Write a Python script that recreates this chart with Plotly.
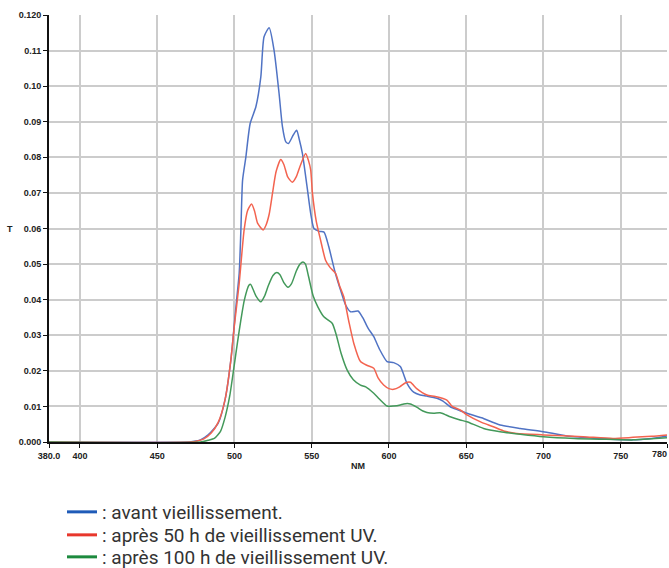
import plotly.graph_objects as go

# ---- data ----
nm_avant = [380, 470, 474, 478, 483, 489.5, 494, 497.7, 501, 503.1, 504.2, 505.3, 507.4, 510.2, 513.9,
            517.1, 519.2, 522.5, 525.7, 528.9, 531.1, 533.2, 535, 538, 540.3, 542, 544, 547.2, 549.4,
            551.5, 555, 558, 561, 565, 568.7, 572, 575.2, 580, 583, 586.5, 590.2, 594, 598.8, 603.1,
            607.4, 611.7, 616, 620.3, 624.6, 631.1, 635, 639.7, 645, 650.5, 660, 672, 685, 700, 715,
            736.5, 758, 770, 780]
t_avant = [0, 0, 0.0002, 0.0006, 0.002, 0.0053, 0.012, 0.023, 0.038, 0.0474, 0.0596, 0.0736, 0.080,
           0.0895, 0.0942, 0.1026, 0.1139, 0.1164, 0.110, 0.098, 0.0886, 0.0844, 0.0839, 0.0862, 0.0876,
           0.085, 0.0811, 0.0712, 0.0642, 0.060, 0.0592, 0.059, 0.055, 0.048, 0.0427, 0.0385, 0.0366,
           0.0368, 0.035, 0.032, 0.0296, 0.026, 0.0226, 0.0223, 0.0212, 0.0165, 0.014, 0.0132, 0.0129,
           0.0123, 0.0115, 0.0099, 0.009, 0.0081, 0.0068, 0.0048, 0.0038, 0.0029, 0.0017, 0.001, 0.0006,
           0.001, 0.0017]

nm_50h = [380, 472, 476, 480, 485, 489.5, 494, 497.7, 499.9, 503.1, 506.3, 508.5, 511.1, 513, 515,
          518.6, 520.5, 522.5, 524.7, 527, 530, 532, 534.5, 537.5, 540, 542.5, 546.1, 548, 549.4, 550.5,
          553, 555.8, 559, 562, 565.5, 568, 570.8, 574, 577.3, 581.6, 586, 590.2, 593, 596.6, 600, 603.1,
          607, 610.5, 613.9, 618, 624.6, 630, 637.5, 641, 646.1, 650.5, 660, 667.6, 675, 682.8, 700,
          725.7, 745, 758, 770, 780]
t_50h = [0, 0, 0.0003, 0.0008, 0.0025, 0.0055, 0.012, 0.023, 0.0324, 0.0446, 0.0596, 0.065, 0.0669,
         0.065, 0.0615, 0.0596, 0.061, 0.064, 0.070, 0.076, 0.0794, 0.078, 0.0745, 0.073, 0.0745, 0.0775,
         0.0811, 0.079, 0.0764, 0.070, 0.062, 0.0567, 0.0511, 0.049, 0.0474, 0.044, 0.0408, 0.034,
         0.0277, 0.0226, 0.0215, 0.0207, 0.018, 0.016, 0.015, 0.0148, 0.0155, 0.0166, 0.0168, 0.015,
         0.0132, 0.0128, 0.0118, 0.010, 0.009, 0.0076, 0.0055, 0.0043, 0.003, 0.0024, 0.002, 0.0015,
         0.001, 0.0013, 0.0016, 0.002]

nm_100h = [380, 478, 483, 487, 491, 494, 497, 499.9, 502, 504.2, 506.5, 509.5, 510.5, 512, 514, 517.1,
           519.5, 522, 525, 527.4, 529.5, 532, 534.7, 537, 540, 542.5, 544.4, 546, 548, 551, 554, 557.9,
           560.5, 563.4, 566, 569, 573, 577, 581.6, 585, 590.2, 594, 598.8, 603, 607.4, 609.6, 613.9,
           618, 622, 624.6, 628.9, 633.2, 637, 639.7, 646.1, 650.5, 661.3, 672, 685, 700, 720, 736.5,
           758, 770, 780]
t_100h = [0, 0, 0.0005, 0.001, 0.003, 0.007, 0.013, 0.0216, 0.028, 0.0343, 0.040, 0.0441, 0.0443, 0.043,
          0.041, 0.0394, 0.041, 0.044, 0.0468, 0.0476, 0.047, 0.0448, 0.0435, 0.0445, 0.048, 0.050,
          0.0506, 0.050, 0.0465, 0.041, 0.038, 0.0352, 0.0343, 0.0333, 0.030, 0.025, 0.0202, 0.0175,
          0.016, 0.0155, 0.0137, 0.012, 0.0101, 0.0101, 0.0104, 0.0107, 0.0107, 0.0098, 0.0087, 0.0083,
          0.0081, 0.0082, 0.0076, 0.0071, 0.0062, 0.0057, 0.0038, 0.0029, 0.0022, 0.0015, 0.001,
          0.0008, 0.0006, 0.0009, 0.0012]

series_names = [": avant vieillissement.",
                ": après 50 h de vieillissement UV.",
                ": après 100 h de vieillissement UV."]

x_tickvals = [380, 400, 450, 500, 550, 600, 650, 700, 750, 780]
x_ticktext = ["380.0", "400", "450", "500", "550", "600", "650", "700", "750", "780"]
y_tickvals = [0, 0.01, 0.02, 0.03, 0.04, 0.05, 0.06, 0.07, 0.08, 0.09, 0.10, 0.11, 0.12]
y_ticktext = ["0.000", "0.01", "0.02", "0.03", "0.04", "0.05", "0.06", "0.07", "0.08", "0.09",
              "0.10", "0.11", "0.120"]

line_colors = ["#5073c4", "#f3634f", "#43995a"]
legend_colors = ["#1f5bb8", "#e8372c", "#1d8a3e"]

# full-window figure (body margin removed in post_script)
W, H = 669, 568
ML, MR, MT, MB = 49, 2, 15, 126
PW = W - ML - MR
PH = H - MT - MB


def px_x(fx):
    return (fx - ML) / PW


def px_y(fy):
    return (H - MB - fy) / PH


fig = go.Figure()
for xs, ys, c in zip([nm_avant, nm_50h, nm_100h], [t_avant, t_50h, t_100h], line_colors):
    fig.add_trace(go.Scatter(x=xs, y=ys, mode="lines", showlegend=False,
                             line=dict(color=c, width=1.5, shape="spline", smoothing=0.6)))
legend_ids = ["legend", "legend2", "legend3"]
for name, c, lid in zip(series_names, legend_colors, legend_ids):
    fig.add_trace(go.Scatter(x=[None], y=[None], mode="lines", name=name, legend=lid,
                             line=dict(color=c, width=3)))

legend_font = dict(family="Roboto", size=19, color="#333333")
row_y = [512, 535, 557]
legend_layout = {}
for lid, ry in zip(legend_ids, row_y):
    legend_layout[lid] = dict(x=px_x(62), xanchor="left", y=px_y(ry), yanchor="middle",
                              font=legend_font, bgcolor="rgba(0,0,0,0)")

tickfont = dict(family="Liberation Sans, Arial", size=9, color="#222222", weight="bold")
# last x tick label is drawn right-aligned so it stays inside the page (as in the reference)
x_ticktext_axis = x_ticktext[:-1] + [""]

fig.update_layout(
    width=W, height=H,
    margin=dict(l=ML, r=MR, t=MT, b=MB, autoexpand=False),
    paper_bgcolor="white", plot_bgcolor="white",
    xaxis=dict(range=[380, 780], tickvals=x_tickvals, ticktext=x_ticktext_axis,
               showgrid=True, gridcolor="#cccccc", gridwidth=1.5,
               showline=True, linecolor="#111111", linewidth=2,
               ticks="outside", ticklen=4, tickcolor="#111111", tickwidth=1,
               tickfont=tickfont, zeroline=False, automargin=False,
               ticklabeloverflow="allow"),
    yaxis=dict(range=[0, 0.12], tickvals=y_tickvals, ticktext=y_ticktext,
               showgrid=True, gridcolor="#cccccc", gridwidth=1.5,
               showline=True, linecolor="#111111", linewidth=2,
               ticks="outside", ticklen=4, tickcolor="#111111", tickwidth=1,
               tickfont=tickfont, zeroline=False, automargin=False,
               ticklabeloverflow="allow"),
    showlegend=True,
    annotations=[
        dict(text="T", xref="paper", yref="paper", x=px_x(10), y=px_y(229),
             showarrow=False, xanchor="center", yanchor="middle",
             font=dict(family="Liberation Sans, Arial", size=9, color="#222222", weight="bold")),
        dict(text="NM", xref="paper", yref="paper", x=px_x(358), y=px_y(466),
             showarrow=False, xanchor="center", yanchor="middle",
             font=dict(family="Liberation Sans, Arial", size=9, color="#222222", weight="bold")),
        dict(text=x_ticktext[-1], xref="paper", yref="paper", x=px_x(668), y=px_y(454),
             showarrow=False, xanchor="right", yanchor="middle", font=tickfont, borderpad=0),
    ],
    **legend_layout,
)

fig.write_html("out.html", config={"displayModeBar": False},
               post_script="document.body.style.margin='0';document.body.style.overflow='hidden';")
